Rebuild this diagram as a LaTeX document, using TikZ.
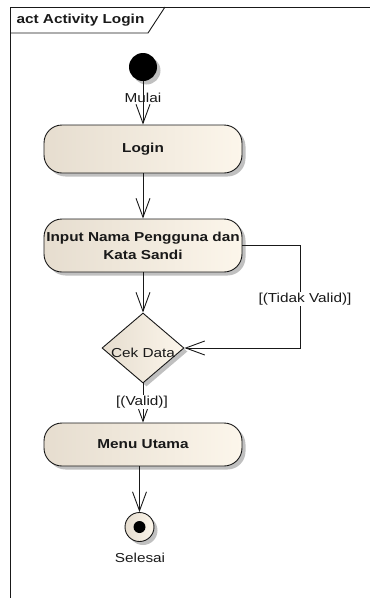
\documentclass[tikz,border=0pt]{standalone}
\usepackage{fontspec}
\setmainfont{Liberation Sans}[FakeStretch=1.18]
\usetikzlibrary{arrows.meta,shapes.geometric,shadows}
\definecolor{actL}{RGB}{230,221,207}
\definecolor{actR}{RGB}{252,246,235}
\definecolor{shadegrey}{RGB}{192,192,192}
\definecolor{ink}{RGB}{25,25,25}
\begin{document}
\begin{tikzpicture}[x=1pt,y=-1pt,
  every node/.style={font=\fontsize{13}{15}\selectfont, text=ink},
  flow/.style={draw=ink, line width=0.9pt, -{Straight Barb[length=19pt,width=14pt]}},
  sh/.style={drop shadow={shadow xshift=3.5pt,shadow yshift=-3.5pt,fill=shadegrey,opacity=1}},
  action/.style={draw=ink, line width=0.9pt, rounded corners=18pt,
    left color=actL, right color=actR, sh, minimum width=198pt,
    align=center, inner sep=0pt,
    font=\bfseries\fontsize{13}{18}\selectfont},
  decision/.style={diamond, draw=ink, line width=0.9pt, left color=actL,
    right color=actR, sh, minimum width=82pt, minimum height=70pt, inner sep=0pt},
  guard/.style={fill=white, inner sep=1pt}]
\useasboundingbox (0,0) rectangle (370,598);

% diagram frame with its name tab
\draw[ink, line width=0.9pt] (10.5,598) -- (10.5,7) -- (370,7);
\draw[ink, line width=0.9pt] (10.5,33) -- (148,33) -- (165,7);
\node[anchor=west, font=\bfseries\fontsize{13}{15}\selectfont] (title) at (13,20.5) {act Activity Login};

% nodes
\node[circle, fill=black, minimum size=28pt, inner sep=0pt, sh] (init) at (143,67) {};
\node[action, minimum height=48pt] (login) at (143,149) {Login};
\node[action, minimum height=53pt] (input) at (143,245.5) {Input Nama Pengguna dan\\Kata Sandi};
\node[decision] (dec) at (143,348) {};
\node (dectext) at (143,353) {Cek Data};
\node[action, minimum height=43pt] (menu) at (143,444.5) {Menu Utama};
\node[circle, draw=ink, line width=0.9pt, left color=actL, right color=actR,
  minimum size=29pt, inner sep=0pt, sh] (final) at (139.5,527) {};
\node[circle, fill=black, minimum size=12pt, inner sep=0pt] (finaldot) at (final.center) {};

% flows
\draw[flow] (init) -- (login);
\node (start) at (143,98) {Mulai};
\draw[flow] (login) -- (input);
\draw[flow] (input) -- (dec);
\coordinate (loop) at (300,245.5);
\draw[flow] (input.east) -- (loop) |- (dec.east);
\node[guard] (invalid) at (305,299) {[(Tidak Valid)]};
\draw[flow] (dec.south) -- (menu.north);
\node[guard] (valid) at (142,402) {[(Valid)]};
\draw[flow] (menu.south -| final) -- (final.north);
\node (end) at (140,558) {Selesai};
\end{tikzpicture}
\end{document}
